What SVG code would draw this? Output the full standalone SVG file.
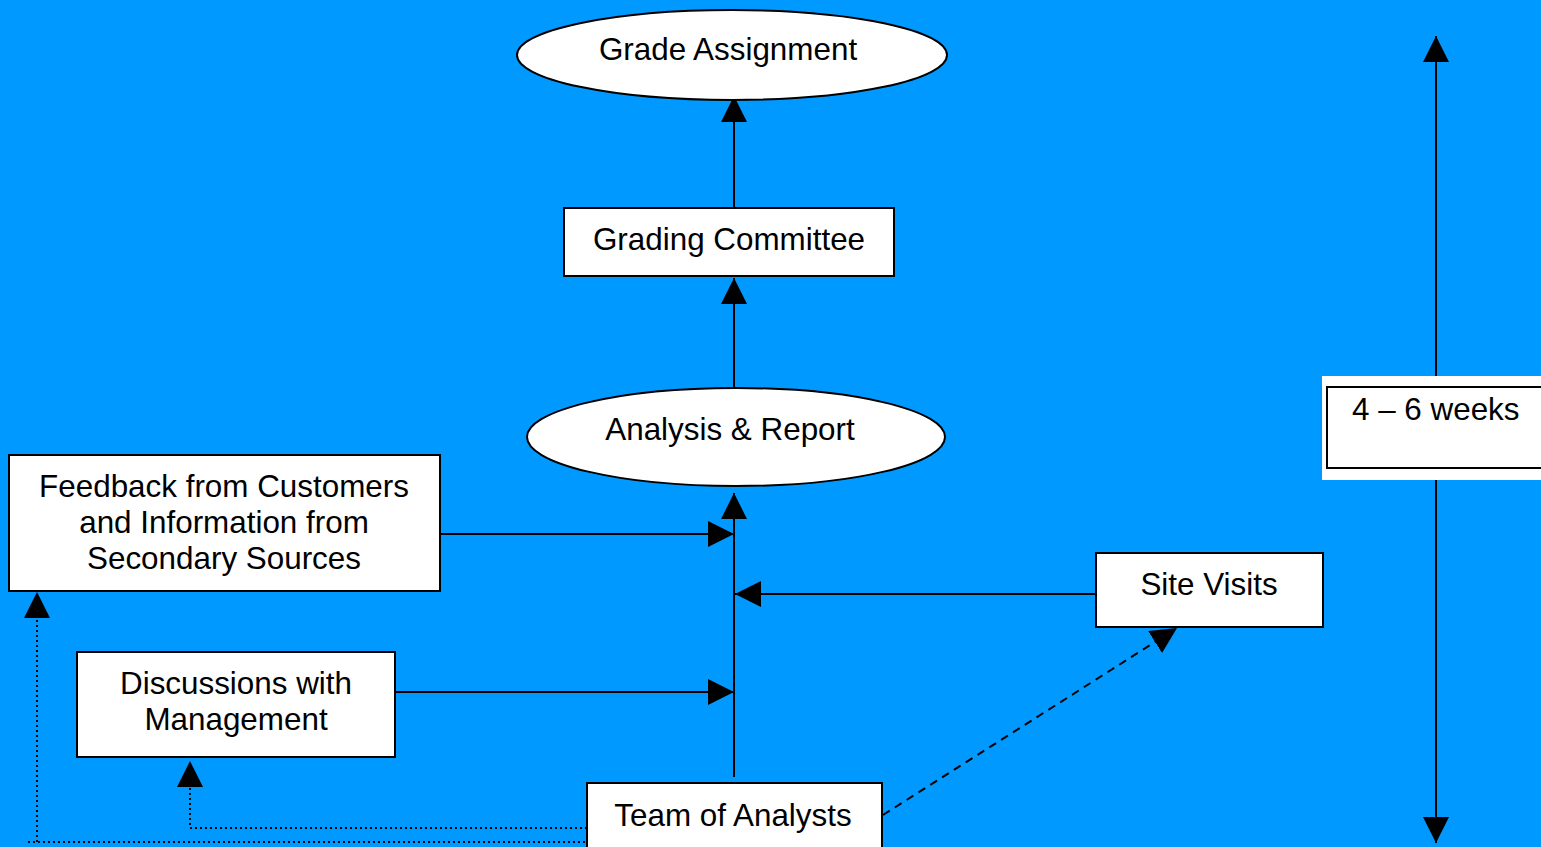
<svg xmlns="http://www.w3.org/2000/svg" width="1541" height="847" viewBox="0 0 1541 847">
  <style>
    .box { fill: #ffffff; stroke: #000000; stroke-width: 2; }
    .lbl { font-family: "Liberation Sans", Arial, sans-serif; font-size: 31.4px; fill: #000000; text-anchor: middle; }
    .ln { fill: none; stroke: #000000; stroke-width: 2; }
    .dash { stroke-dasharray: 8 6; }
    .dot { stroke-dasharray: 2 3; }
  </style>
  <defs>
    <marker id="tri" markerUnits="userSpaceOnUse" markerWidth="26" markerHeight="26" viewBox="0 0 24 24" refX="24" refY="12" orient="auto">
      <path d="M0,0 L24,12 L0,24 Z" fill="#000000"/>
    </marker>
    <marker id="triStart" markerUnits="userSpaceOnUse" markerWidth="26" markerHeight="26" viewBox="0 0 24 24" refX="0" refY="12" orient="auto">
      <path d="M24,0 L0,12 L24,24 Z" fill="#000000"/>
    </marker>
  </defs>

  <rect x="0" y="0" width="1541" height="847" fill="#0099ff"/>

  <g id="connectors">
    <line class="ln" x1="734" y1="208" x2="734" y2="96" marker-end="url(#tri)"/>
    <line class="ln" x1="734" y1="388" x2="734" y2="278" marker-end="url(#tri)"/>
    <line class="ln" x1="734" y1="777" x2="734" y2="493" marker-end="url(#tri)"/>
    <line class="ln" x1="440" y1="534" x2="734" y2="534" marker-end="url(#tri)"/>
    <line class="ln" x1="1096" y1="594" x2="735" y2="594" marker-end="url(#tri)"/>
    <line class="ln" x1="395" y1="692" x2="734" y2="692" marker-end="url(#tri)"/>
    <line class="ln dash" x1="883" y1="815" x2="1177" y2="628" marker-end="url(#tri)"/>
    <polyline class="ln dot" points="587,828 190,828 190,761" marker-end="url(#tri)"/>
    <polyline class="ln dot" points="590,842 25,842" />
    <polyline class="ln dot" points="37,842 37,592" marker-end="url(#tri)"/>
    <line class="ln" x1="1436" y1="843" x2="1436" y2="36" marker-start="url(#triStart)" marker-end="url(#tri)"/>
  </g>

  <g id="grade-assignment">
    <ellipse class="box" cx="732" cy="55" rx="215" ry="45"/>
    <text class="lbl" x="728" y="60">Grade Assignment</text>
  </g>

  <g id="grading-committee">
    <rect class="box" x="564" y="208" width="330" height="68"/>
    <text class="lbl" x="729" y="250">Grading Committee</text>
  </g>

  <g id="analysis-report">
    <ellipse class="box" cx="736" cy="437" rx="209" ry="49"/>
    <text class="lbl" x="730" y="440">Analysis &amp; Report</text>
  </g>

  <g id="feedback">
    <rect class="box" x="9" y="455" width="431" height="136"/>
    <text class="lbl" x="224" y="497">Feedback from Customers</text>
    <text class="lbl" x="224" y="533">and Information from</text>
    <text class="lbl" x="224" y="569">Secondary Sources</text>
  </g>

  <g id="site-visits">
    <rect class="box" x="1096" y="553" width="227" height="74"/>
    <text class="lbl" x="1209" y="595">Site Visits</text>
  </g>

  <g id="discussions">
    <rect class="box" x="77" y="652" width="318" height="105"/>
    <text class="lbl" x="236" y="694">Discussions with</text>
    <text class="lbl" x="236" y="730">Management</text>
  </g>

  <g id="team-of-analysts">
    <rect class="box" x="587" y="783" width="295" height="70"/>
    <text class="lbl" x="733" y="826">Team of Analysts</text>
  </g>

  <g id="duration">
    <rect x="1322" y="376" width="225" height="104" fill="#ffffff"/>
    <rect class="box" x="1327" y="387" width="220" height="81"/>
    <text class="lbl" x="1352" y="420" style="text-anchor:start">4 – 6 weeks</text>
  </g>
</svg>
